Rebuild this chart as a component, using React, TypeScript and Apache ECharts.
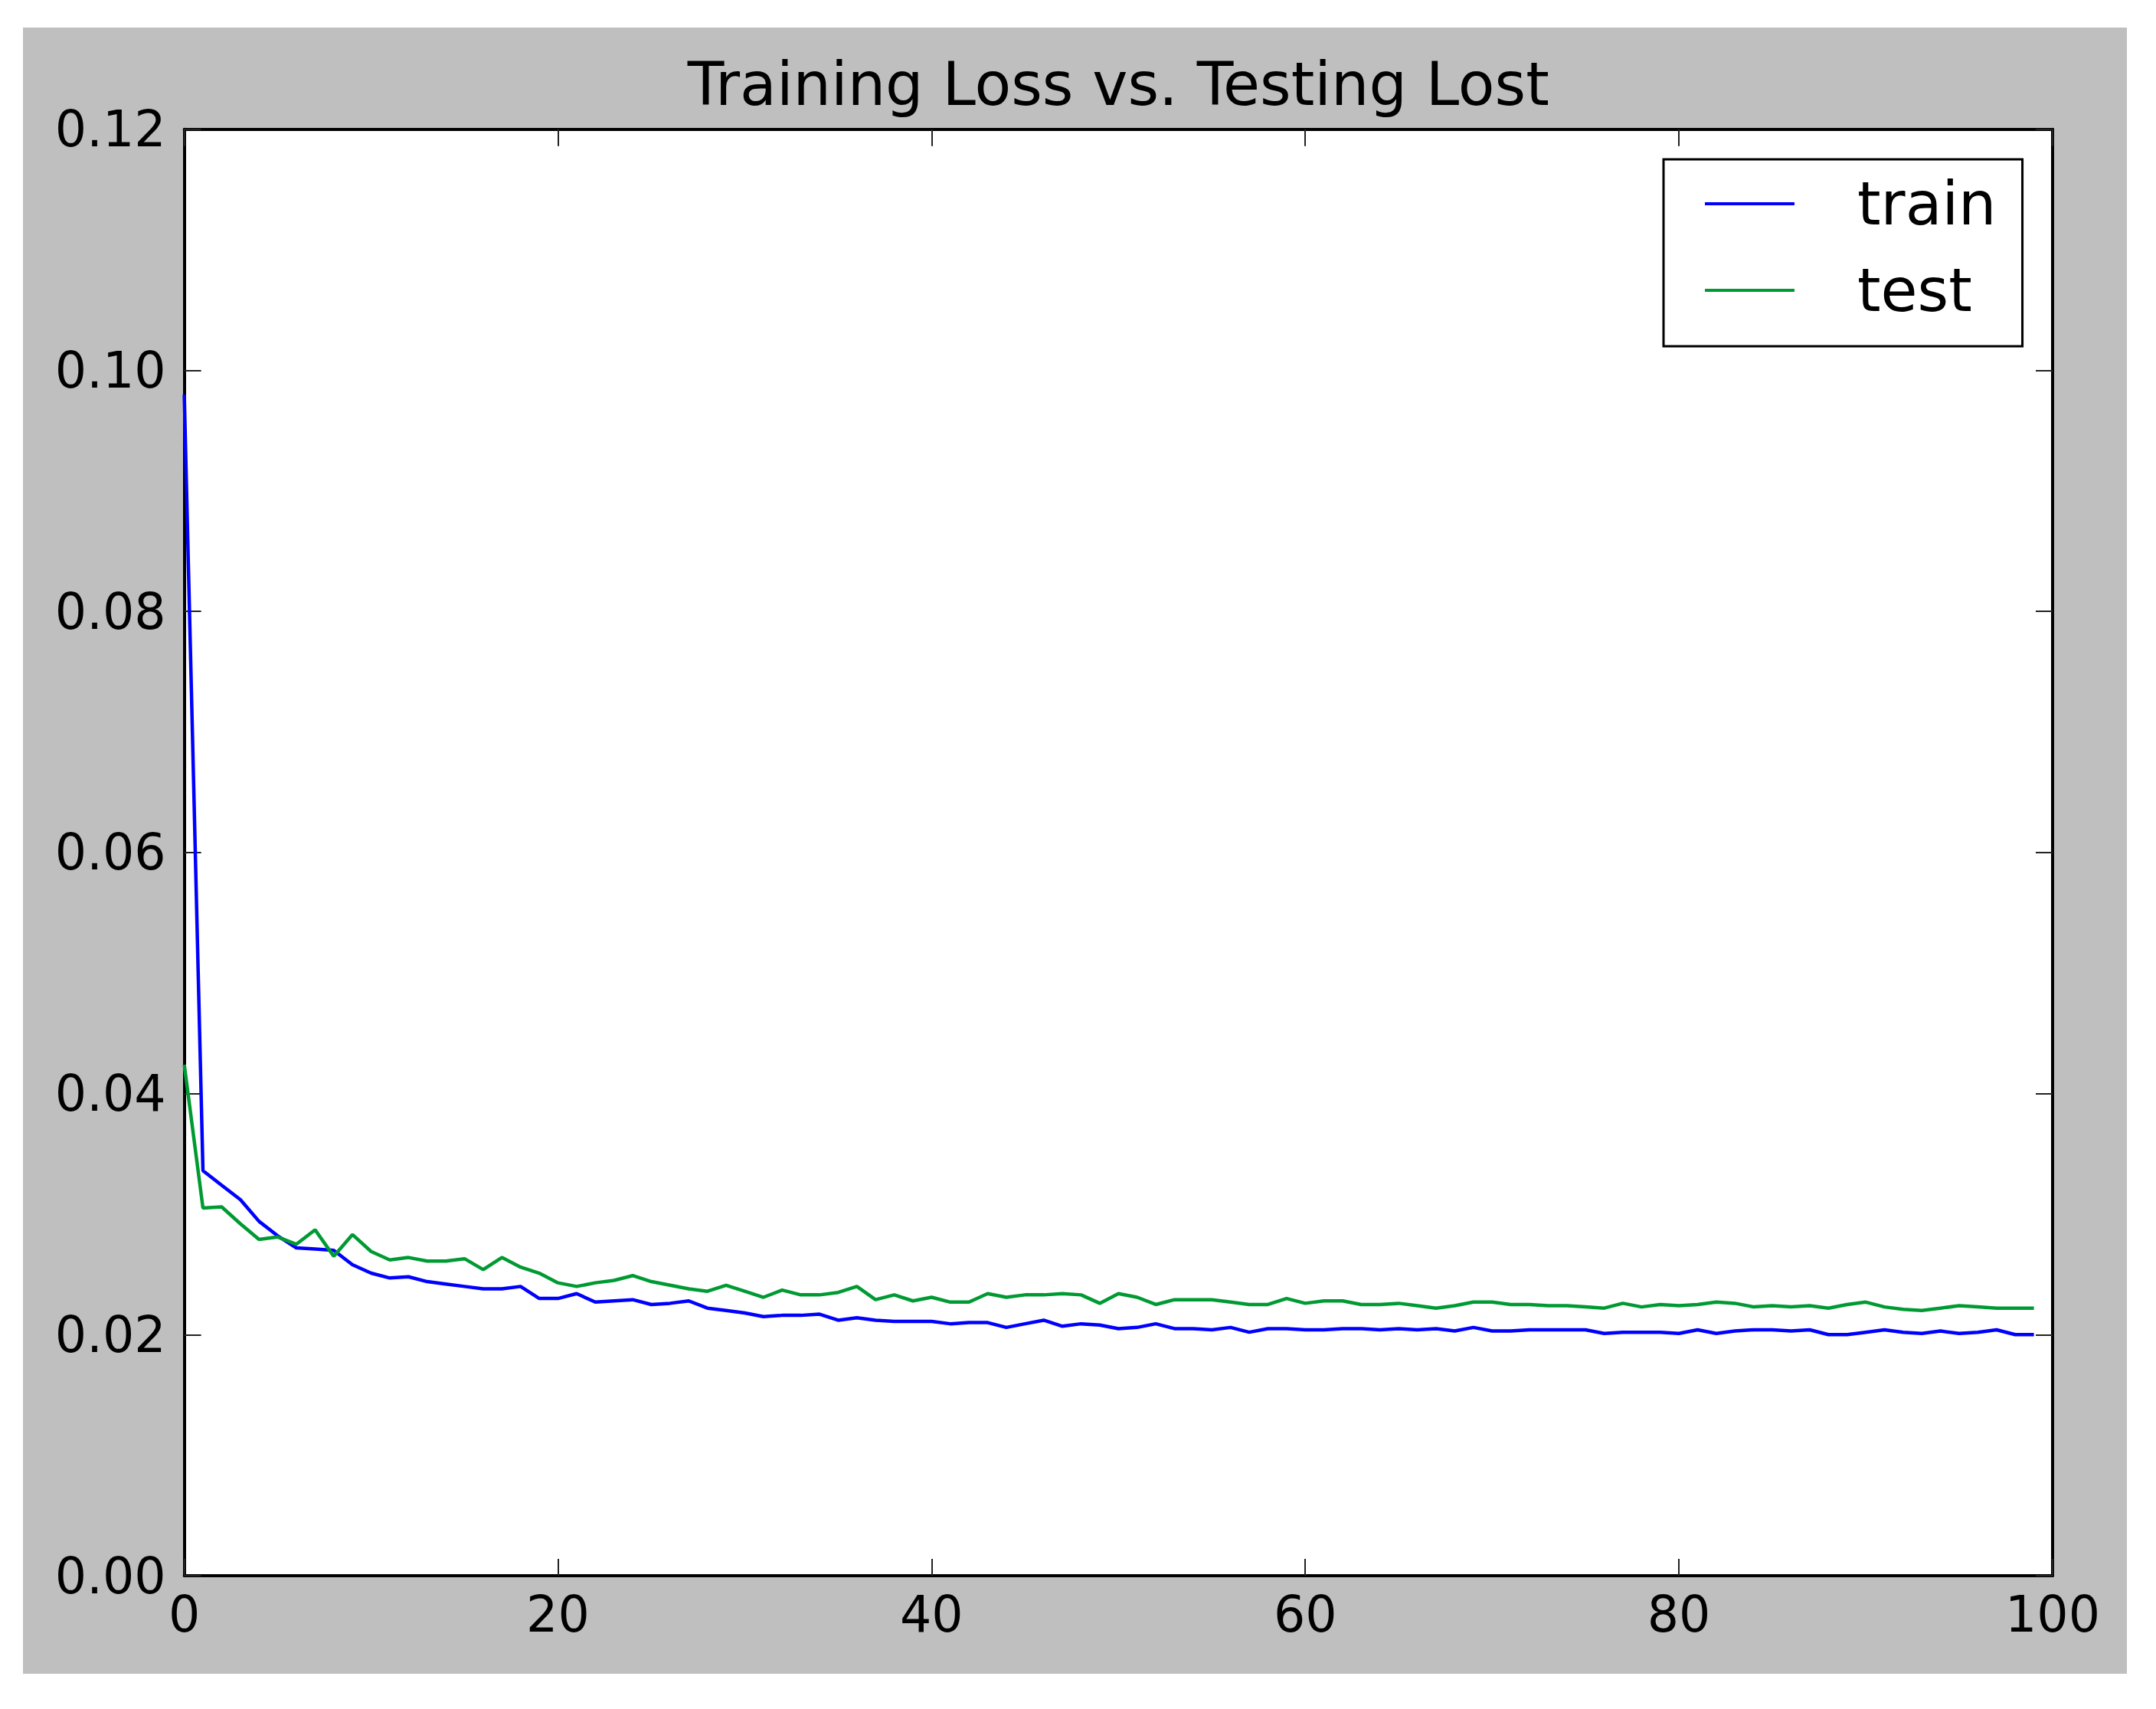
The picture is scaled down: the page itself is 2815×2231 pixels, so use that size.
import React, { useEffect, useRef } from "react";
import * as echarts from "echarts";

// Loss per epoch (epochs 0..99)
const trainLoss: number[] = [
  0.098, 0.0336, 0.0324, 0.0312, 0.0294, 0.0282, 0.0272, 0.0271, 0.027, 0.0258,
  0.0251, 0.0247, 0.0248, 0.0244, 0.0242, 0.024, 0.0238, 0.0238, 0.024, 0.023,
  0.023, 0.0234, 0.0227, 0.0228, 0.0229, 0.0225, 0.0226, 0.0228, 0.0222, 0.022,
  0.0218, 0.0215, 0.0216, 0.0216, 0.0217, 0.0212, 0.0214, 0.0212, 0.0211, 0.0211,
  0.0211, 0.0209, 0.021, 0.021, 0.0206, 0.0209, 0.0212, 0.0207, 0.0209, 0.0208,
  0.0205, 0.0206, 0.0209, 0.0205, 0.0205, 0.0204, 0.0206, 0.0202, 0.0205, 0.0205,
  0.0204, 0.0204, 0.0205, 0.0205, 0.0204, 0.0205, 0.0204, 0.0205, 0.0203, 0.0206,
  0.0203, 0.0203, 0.0204, 0.0204, 0.0204, 0.0204, 0.0201, 0.0202, 0.0202, 0.0202,
  0.0201, 0.0204, 0.0201, 0.0203, 0.0204, 0.0204, 0.0203, 0.0204, 0.02, 0.02,
  0.0202, 0.0204, 0.0202, 0.0201, 0.0203, 0.0201, 0.0202, 0.0204, 0.02, 0.02,
];

const testLoss: number[] = [
  0.0424, 0.0305, 0.0306, 0.0292, 0.0279, 0.0281, 0.0275, 0.0287, 0.0265, 0.0283,
  0.0269, 0.0262, 0.0264, 0.0261, 0.0261, 0.0263, 0.0254, 0.0264, 0.0256, 0.0251,
  0.0243, 0.024, 0.0243, 0.0245, 0.0249, 0.0244, 0.0241, 0.0238, 0.0236, 0.0241,
  0.0236, 0.0231, 0.0237, 0.0233, 0.0233, 0.0235, 0.024, 0.0229, 0.0233, 0.0228,
  0.0231, 0.0227, 0.0227, 0.0234, 0.0231, 0.0233, 0.0233, 0.0234, 0.0233, 0.0226,
  0.0234, 0.0231, 0.0225, 0.0229, 0.0229, 0.0229, 0.0227, 0.0225, 0.0225, 0.023,
  0.0226, 0.0228, 0.0228, 0.0225, 0.0225, 0.0226, 0.0224, 0.0222, 0.0224, 0.0227,
  0.0227, 0.0225, 0.0225, 0.0224, 0.0224, 0.0223, 0.0222, 0.0226, 0.0223, 0.0225,
  0.0224, 0.0225, 0.0227, 0.0226, 0.0223, 0.0224, 0.0223, 0.0224, 0.0222, 0.0225,
  0.0227, 0.0223, 0.0221, 0.022, 0.0222, 0.0224, 0.0223, 0.0222, 0.0222, 0.0222,
];

const seriesNames = ["train", "test"];
const titleText = "Training Loss vs. Testing Lost";
const xMin = 0;
const xMax = 100;
const xInterval = 20;
const yMin = 0;
const yMax = 0.12;
const yInterval = 0.02;

const FONT = "DejaVu Sans";
const W = 2815;
const H = 2231;
const GRID = { left: 240.6, top: 168.8, right: 2680, bottom: 2057 };

export default function App() {
  const ref = useRef<HTMLDivElement>(null);

  useEffect(() => {
    if (!ref.current) return;
    const chart = echarts.init(ref.current, null, { renderer: "svg" });

    const tick = { show: true, inside: true, length: 22, lineStyle: { color: "#222", width: 2 } };
    const spine = { show: true, onZero: false, lineStyle: { color: "#000", width: 4 } };

    chart.setOption({
      animation: false,
      backgroundColor: "#ffffff",
      graphic: [
        {
          type: "rect",
          z: -10,
          silent: true,
          shape: { x: 30, y: 36, width: 2747, height: 2149 },
          style: { fill: "#bfbfbf" },
        },
        {
          type: "text",
          x: (GRID.left + GRID.right) / 2,
          y: 110,
          style: {
            text: titleText,
            fontFamily: FONT,
            fontSize: 78,
            fill: "#000",
            textAlign: "center",
            textVerticalAlign: "middle",
          },
        },
      ],
      grid: {
        left: GRID.left,
        top: GRID.top,
        width: GRID.right - GRID.left,
        height: GRID.bottom - GRID.top,
        show: true,
        backgroundColor: "#ffffff",
        borderWidth: 0,
        containLabel: false,
      },
      legend: {
        show: true,
        orient: "vertical",
        left: 2172,
        top: 208,
        data: seriesNames,
        icon: "rect",
        itemWidth: 117,
        itemHeight: 4,
        itemGap: 33,
        selectedMode: false,
        padding: [18, 34, 33, 54],
        backgroundColor: "#ffffff",
        borderColor: "#000000",
        borderWidth: 3,
        borderRadius: 0,
        textStyle: {
          fontFamily: FONT,
          fontSize: 78,
          color: "#000",
          lineHeight: 80,
          padding: [0, 0, 0, 77],
        },
      },
      xAxis: [
        {
          type: "value",
          position: "bottom",
          min: xMin,
          max: xMax,
          interval: xInterval,
          splitLine: { show: false },
          axisLine: spine,
          axisTick: tick,
          axisLabel: {
            show: true,
            margin: 18,
            fontFamily: FONT,
            fontSize: 65,
            color: "#000",
          },
        },
        {
          type: "value",
          position: "top",
          min: xMin,
          max: xMax,
          interval: xInterval,
          splitLine: { show: false },
          axisLine: spine,
          axisTick: tick,
          axisLabel: { show: false },
        },
      ],
      yAxis: [
        {
          type: "value",
          position: "left",
          min: yMin,
          max: yMax,
          interval: yInterval,
          splitLine: { show: false },
          axisLine: spine,
          axisTick: tick,
          axisLabel: {
            show: true,
            margin: 24,
            fontFamily: FONT,
            fontSize: 65,
            color: "#000",
            formatter: (v: number) => v.toFixed(2),
          },
        },
        {
          type: "value",
          position: "right",
          min: yMin,
          max: yMax,
          interval: yInterval,
          splitLine: { show: false },
          axisLine: spine,
          axisTick: tick,
          axisLabel: { show: false },
        },
      ],
      series: [
        {
          name: seriesNames[0],
          type: "line",
          xAxisIndex: 0,
          yAxisIndex: 0,
          data: trainLoss.map((v, i) => [i, v]),
          symbol: "none",
          showSymbol: false,
          color: "#0000ff",
          lineStyle: { color: "#0000ff", width: 4.5 },
          emphasis: { disabled: true },
        },
        {
          name: seriesNames[1],
          type: "line",
          xAxisIndex: 0,
          yAxisIndex: 0,
          data: testLoss.map((v, i) => [i, v]),
          symbol: "none",
          showSymbol: false,
          color: "#009a33",
          lineStyle: { color: "#009a33", width: 4.5 },
          emphasis: { disabled: true },
        },
      ],
    });

    return () => chart.dispose();
  }, []);

  return (
    <div
      ref={ref}
      style={{ position: "absolute", left: 0, top: 0, width: W, height: H }}
    />
  );
}
